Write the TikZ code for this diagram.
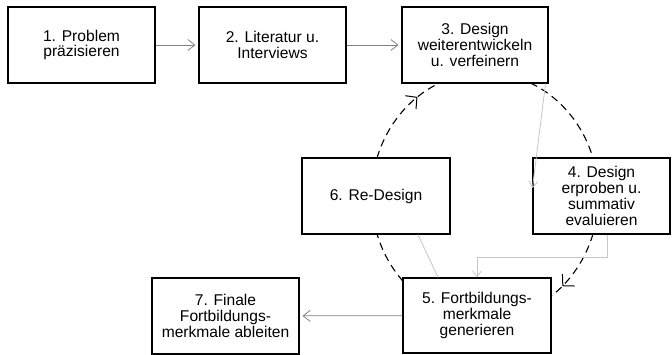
\documentclass[tikz,border=0pt]{standalone}
\usepackage{fontspec}
\setmainfont{Liberation Sans}
\usetikzlibrary{arrows.meta,calc,decorations.markings}
\begin{document}
\begin{tikzpicture}[x=1pt,y=-1pt,
  stepbox/.style={draw=black,fill=white,line width=1.1pt,minimum width=147pt,
    minimum height=76pt,inner sep=0pt,align=center,
    font=\fontsize{15.6}{15.8}\selectfont},
  flow/.style={draw=black!50,line width=0.8pt,
    -{Straight Barb[length=7pt,width=11pt]},shorten >=3pt},
  side/.style={draw=black!22,line width=0.8pt},
  sidearrow/.style={side,-{Straight Barb[length=6pt,width=9pt]}},
  ringline/.style={draw=black,line width=1.1pt,dash pattern=on 7.5pt off 5pt},
  tipmark/.style={postaction={decorate},decoration={markings,
    mark=at position #1 with {\arrow[solid,line width=1pt]{Straight Barb[length=8pt,width=17pt]}}}},
  cyc/.style={x radius=113.5pt,y radius=123.3pt}
]
\useasboundingbox (0,0) rectangle (672,355);

% centre of the dashed design cycle
\coordinate (c) at (485,196);

% dashed cycle: 3 -> 4 -> 5 -> 6 -> 3
\draw[ringline] ($(c)+(66.4:113.5pt and 123.3pt)$)
  arc[start angle=66.4,end angle=17.9,cyc];
\draw[ringline,tipmark=0.8] ($(c)+(-17.9:113.5pt and 123.3pt)$)
  arc[start angle=-17.9,end angle=-54.5,cyc];
\draw[ringline] ($(c)+(223.7:113.5pt and 123.3pt)$)
  arc[start angle=223.7,end angle=197.9,cyc];
\draw[ringline,tipmark=0.74] ($(c)+(162.1:113.5pt and 123.3pt)$)
  arc[start angle=162.1,end angle=113.6,cyc];

% steps
\node[stepbox] (b1) at (81.5,45) {1. Problem\\präzisieren};
\node[stepbox] (b2) at (272.5,45) {2. Literatur u.\\Interviews};
\node[stepbox,minimum width=146pt] (b3) at (475,45) {3. Design\\weiterentwickeln\\u. verfeinern};
\node[stepbox,minimum width=137pt] (b4) at (601.5,196) {4. Design\\erproben u.\\summativ\\evaluieren};
\node[stepbox,minimum width=148pt] (b6) at (376,196) {6. Re-Design};
\node[stepbox,minimum width=148pt,minimum height=75pt] (b5) at (477,315.5) {5. Fortbildungs-\\merkmale\\generieren};
\node[stepbox] (b7) at (225.5,316) {7. Finale\\Fortbildungs-\\merkmale ableiten};

% main flow
\draw[flow] (b1) -- (b2);
\draw[flow] (b2) -- (b3);
\draw[flow] (b5) -- (b7);

% light auxiliary connectors
\draw[sidearrow] ([xshift=-3pt]b3.south east) -- ([yshift=8pt]b4.west);
\draw[sidearrow] ([xshift=5.5pt]b4.south) -- ++(0,23) -| (b5.north);
\draw[side] ([xshift=42pt]b6.south) -- ([xshift=-39pt]b5.north);
\end{tikzpicture}
\end{document}
